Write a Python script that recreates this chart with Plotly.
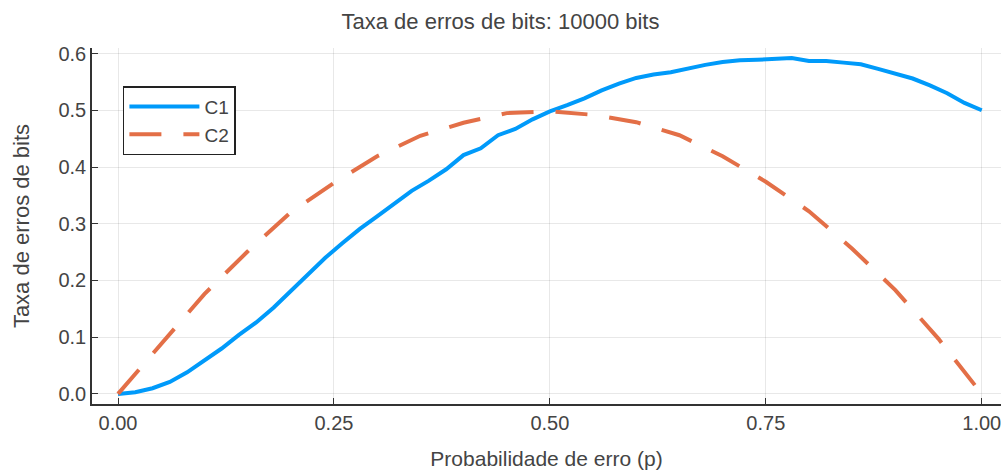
import plotly.graph_objects as go

p_c1 = [0.00, 0.02, 0.04, 0.06, 0.08, 0.10, 0.12, 0.14, 0.16, 0.18, 0.20, 0.22, 0.24, 0.26,
        0.28, 0.30, 0.32, 0.34, 0.36, 0.38, 0.40, 0.42, 0.44, 0.46, 0.48, 0.50, 0.52, 0.54,
        0.56, 0.58, 0.60, 0.62, 0.64, 0.66, 0.68, 0.70, 0.72, 0.74, 0.76, 0.78, 0.80, 0.82,
        0.84, 0.86, 0.88, 0.90, 0.92, 0.94, 0.96, 0.98, 1.00]
c1 = [0.000, 0.003, 0.010, 0.021, 0.038, 0.058, 0.080, 0.104, 0.126, 0.152, 0.182, 0.210,
      0.240, 0.266, 0.291, 0.313, 0.336, 0.358, 0.376, 0.396, 0.421, 0.433, 0.456, 0.467,
      0.484, 0.498, 0.509, 0.521, 0.535, 0.547, 0.557, 0.563, 0.567, 0.574, 0.580, 0.585,
      0.588, 0.589, 0.590, 0.592, 0.587, 0.587, 0.584, 0.581, 0.573, 0.565, 0.556, 0.544,
      0.530, 0.513, 0.500]

p_c2 = [0.00, 0.05, 0.10, 0.15, 0.20, 0.25, 0.30, 0.35, 0.40, 0.45, 0.50, 0.55, 0.60,
        0.65, 0.70, 0.75, 0.80, 0.85, 0.90, 0.95, 1.00]
c2 = [0.000, 0.088, 0.176, 0.251, 0.320, 0.372, 0.419, 0.455, 0.478, 0.495, 0.498, 0.492,
      0.479, 0.456, 0.419, 0.374, 0.322, 0.256, 0.183, 0.097, 0.000]

x_ticks = [0.0, 0.25, 0.5, 0.75, 1.0]
x_ticklabels = ["0.00", "0.25", "0.50", "0.75", "1.00"]
y_ticks = [0.0, 0.1, 0.2, 0.3, 0.4, 0.5, 0.6]
y_ticklabels = ["0.0", "0.1", "0.2", "0.3", "0.4", "0.5", "0.6"]

FONT = "Liberation Sans"
TXT = "#444444"

fig = go.Figure()
fig.add_trace(go.Scatter(x=p_c1, y=c1, mode="lines", name="C1",
                         line=dict(color="#009AFA", width=4)))
fig.add_trace(go.Scatter(x=p_c2, y=c2, mode="lines", name="C2",
                         line=dict(color="#E36F47", width=4, dash="32px,22px")))

axis_common = dict(
    showgrid=True, gridcolor="rgba(0,0,0,0.09)", gridwidth=1,
    showline=True, linecolor="#333333", linewidth=1.5,
    ticks="inside", ticklen=6, tickwidth=1.2, tickcolor="#333333",
    zeroline=False, mirror=False, automargin=False,
    ticklabeloverflow="allow",
    tickfont=dict(family=FONT, size=20, color=TXT),
)

fig.update_layout(
    width=1001, height=473,
    paper_bgcolor="white", plot_bgcolor="white",
    margin=dict(l=92, r=0, t=48, b=69),
    title=dict(text="Taxa de erros de bits: 10000 bits", x=0.5, xanchor="center",
               xref="container", y=0.955, yanchor="middle",
               font=dict(family=FONT, size=22, color=TXT)),
    xaxis=dict(range=[-0.0301, 1.0223], tickvals=x_ticks, ticktext=x_ticklabels,
               title=dict(text="Probabilidade de erro (p)", standoff=19,
                          font=dict(family=FONT, size=21, color=TXT)),
               **axis_common),
    yaxis=dict(range=[-0.0178, 0.6098], tickvals=y_ticks, ticktext=y_ticklabels,
               title=dict(text="Taxa de erros de bits", standoff=23,
                          font=dict(family=FONT, size=22, color=TXT)),
               **axis_common),
    legend=dict(x=0.034, y=0.893, xanchor="left", yanchor="top",
                bgcolor="white", bordercolor="#222222", borderwidth=1.5,
                font=dict(family=FONT, size=19, color=TXT),
                itemwidth=70),
    showlegend=True,
)

fig.write_html("out.html", config={"displayModeBar": False},
               post_script="document.body.style.margin='0';")
